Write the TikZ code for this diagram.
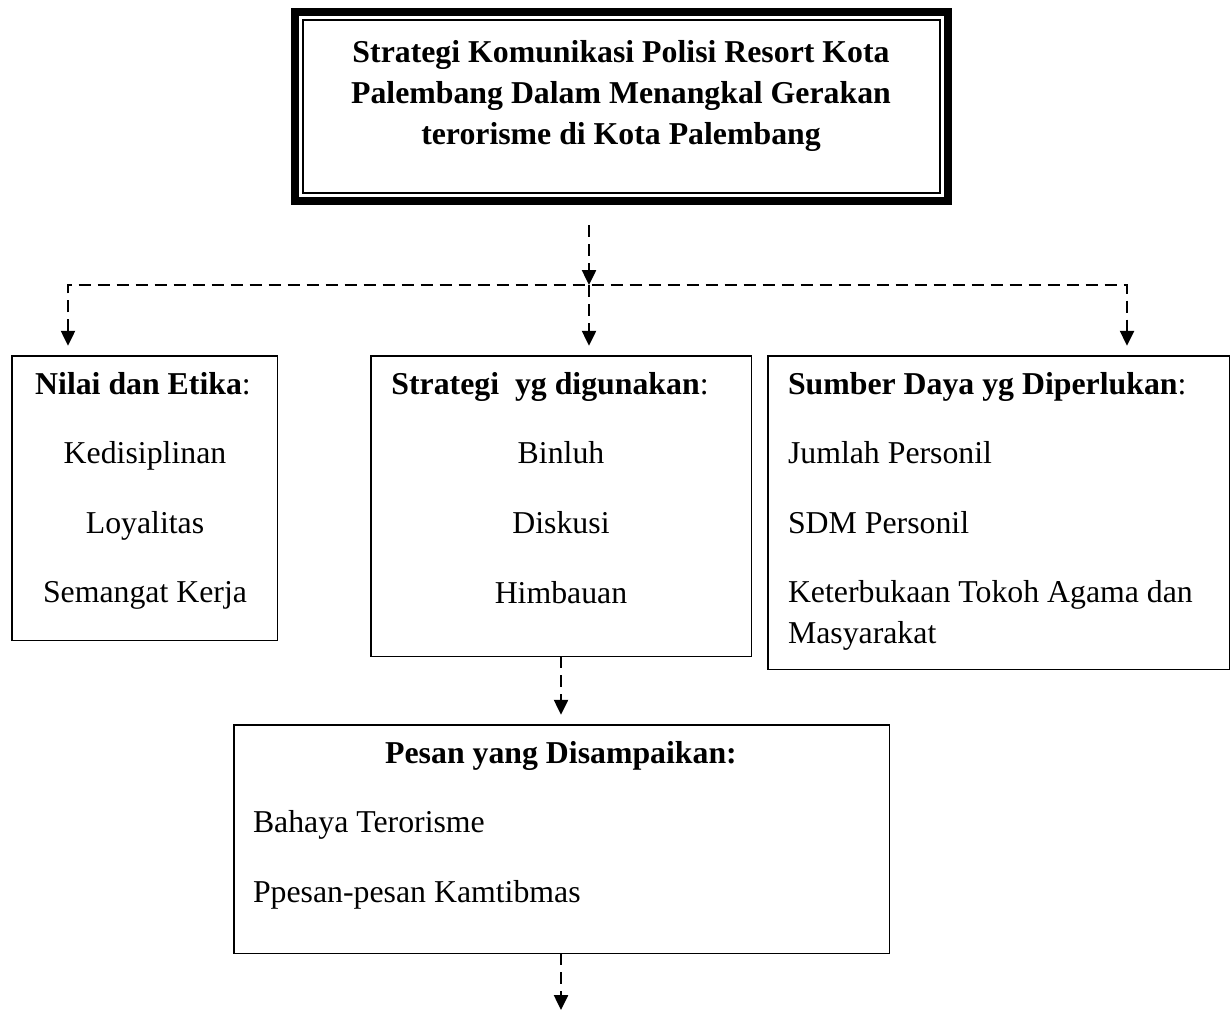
\documentclass[tikz,border=0pt]{standalone}
\usepackage{fontspec}
\setmainfont{Liberation Serif}
\usetikzlibrary{arrows.meta,calc}
\begin{document}
\begin{tikzpicture}[x=1pt,y=1pt,
  box/.style={draw,line width=1.5pt,inner sep=0pt,outer sep=0pt,anchor=north west},
  txt/.style={inner sep=0pt,outer sep=0pt,font=\fontsize{31.8}{40}\selectfont},
  ctxt/.style={txt,anchor=base},
  ltxt/.style={txt,anchor=base west},
  dashline/.style={line width=2.5pt,dash pattern=on 12pt off 7pt},
  conn/.style={dashline,-{Triangle[length=15pt,width=14pt]}},
  bothconn/.style={dashline,{Triangle[length=15pt,width=14pt]}-{Triangle[length=15pt,width=14pt]}}
]
\useasboundingbox (0,0) rectangle (1231,-1011);

% title box (thick-thin frame)
\node[draw,line width=8pt,minimum width=653pt,minimum height=189pt,inner sep=0pt,outer sep=0pt] (top) at (621.5,-106.5) {};
\draw[line width=1.5pt] ([shift={(8,-8)}]top.north west) rectangle ([shift={(-8,8)}]top.south east);
\node[ctxt] (t1) at (621,-63) {\textbf{Strategi Komunikasi Polisi Resort Kota}};
\node[ctxt] (t2) at (621,-104) {\textbf{Palembang Dalam Menangkal Gerakan}};
\node[ctxt] (t3) at (621,-145) {\textbf{terorisme di Kota Palembang}};

% boxes
\node[box,minimum width=265.5pt,minimum height=284.5pt] (L) at (11.75,-355.75) {};
\node[box,minimum width=380.5pt,minimum height=300.5pt] (M) at (370.75,-355.75) {};
\node[box,minimum width=461.5pt,minimum height=313.5pt] (R) at (767.75,-355.75) {};
\node[box,minimum width=655.5pt,minimum height=228.5pt] (B) at (233.75,-724.75) {};

% texts left
\node[ctxt] (l0) at (143,-394) {\textbf{Nilai dan Etika}:};
\node[ctxt] (l1) at (145,-463) {Kedisiplinan};
\node[ctxt] (l2) at (145,-533) {Loyalitas};
\node[ctxt] (l3) at (145,-602) {Semangat Kerja};

% texts middle
\node[ctxt] (m0) at (550,-394) {\textbf{Strategi\ \ yg digunakan}:};
\node[ctxt] (m1) at (561,-463) {Binluh};
\node[ctxt] (m2) at (561,-533) {Diskusi};
\node[ctxt] (m3) at (561,-603) {Himbauan};

% texts right
\node[ltxt] (r0) at (788,-394) {\textbf{Sumber Daya yg Diperlukan}:};
\node[ltxt] (r1) at (788,-463) {Jumlah Personil};
\node[ltxt] (r2) at (788,-533) {SDM Personil};
\node[ltxt] (r3) at (788,-602) {Keterbukaan Tokoh Agama dan};
\node[ltxt] (r4) at (788,-643) {Masyarakat};

% texts bottom
\node[ctxt] (b0) at (561,-763) {\textbf{Pesan yang Disampaikan:}};
\node[ltxt] (b1) at (253,-832) {Bahaya Terorisme};
\node[ltxt] (b2) at (253,-902) {Ppesan-pesan Kamtibmas};

% connectors
\coordinate (j) at (589,-285);
\coordinate (jl) at (68,-285);
\coordinate (jr) at (1127,-285);
\coordinate (end) at (561,-1010);
\draw[conn] ([yshift=-24pt]top.south -| j) -- (j);
\draw[bothconn] ([yshift=10pt]jl |- L.north) -- (jl) -- (jr) -- ([yshift=10pt]jr |- R.north);
\draw[conn] (j) -- ([yshift=10pt]j |- M.north);
\draw[conn] (M.south) -- ([yshift=10pt]B.north -| M.south);
\draw[conn] (B.south -| M.south) -- (end);
\end{tikzpicture}
\end{document}
